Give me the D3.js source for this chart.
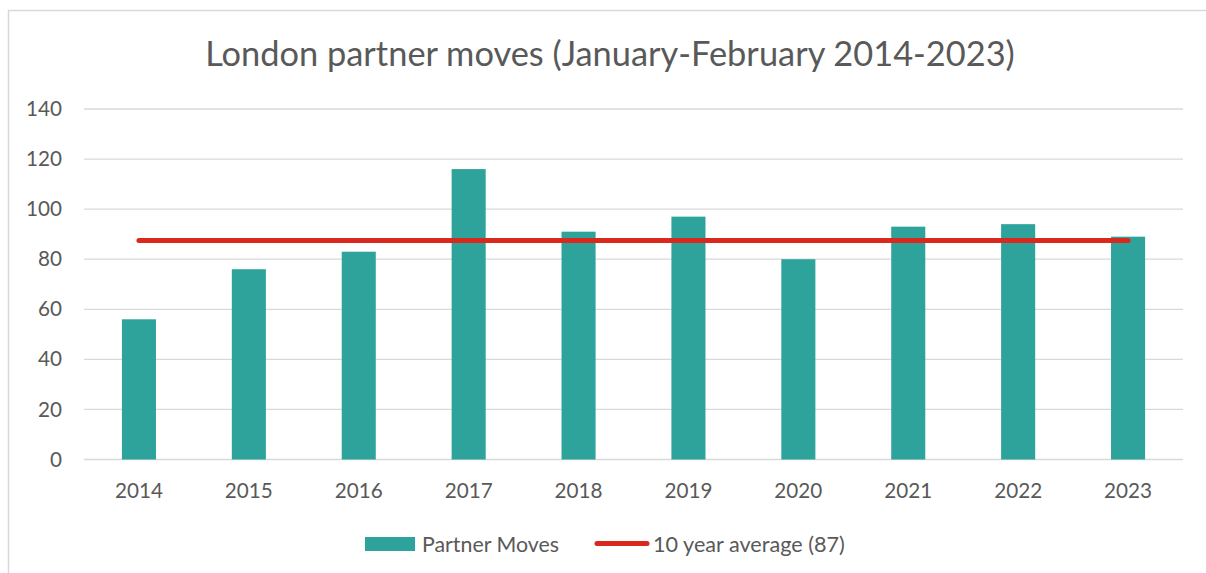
<!DOCTYPE html>
<html>
<head>
<meta charset="utf-8">
<script src="https://cdn.jsdelivr.net/npm/d3@7"></script>
<style>
  html, body { margin: 0; padding: 0; background: #fff; }
  svg { display: block; font-family: Lato, "Open Sans", sans-serif; }
</style>
</head>
<body>
<svg id="chart" width="1206" height="573"></svg>
<script>
const categories = ["2014","2015","2016","2017","2018","2019","2020","2021","2022","2023"];
const partnerMoves = [56, 76, 83, 116, 91, 97, 80, 93, 94, 89];
const averageValue = 87.5;
const yTicks = [0, 20, 40, 60, 80, 100, 120, 140];
const titleText = "London partner moves (January-February 2014-2023)";
const seriesNames = ["Partner Moves", "10 year average (87)"];

const svg = d3.select("#chart");
const W = 1206, H = 573;
const plot = { left: 84, right: 1183, top: 109, bottom: 459.5 };
const textColor = "#595959";
const barColor = "#2ea39c";
const lineColor = "#d9291f";

function fit(sel, target) {
  const base = parseFloat(sel.attr("font-size"));
  const w = sel.node().getComputedTextLength();
  sel.attr("font-size", base * target / w);
}

// outer border
svg.append("rect").attr("x", 8.5).attr("y", 10.5).attr("width", W).attr("height", H)
  .attr("fill", "none").attr("stroke", "#d9d9d9").attr("stroke-width", 1.5);

const x = d3.scaleBand().domain(categories).range([plot.left, plot.right]).paddingInner(0.69).paddingOuter(0.345);
const y = d3.scaleLinear().domain([0, 140]).range([plot.bottom, plot.top]);

// gridlines
svg.append("g").selectAll("line").data(yTicks).join("line")
  .attr("x1", plot.left).attr("x2", plot.right)
  .attr("y1", d => y(d)).attr("y2", d => y(d))
  .attr("stroke", "#d9d9d9").attr("stroke-width", 1.3);

// y axis labels
const yAxis = svg.append("g").attr("transform", `translate(${62},0)`)
  .call(d3.axisLeft(y).tickValues(yTicks).tickSize(0).tickPadding(0));
yAxis.select(".domain").remove();
const yText = yAxis.selectAll("text").attr("font-size", 20).attr("fill", textColor)
  .attr("font-family", "Lato, 'Open Sans', sans-serif");
{
  const node = yText.filter(d => d === 140).node();
  const w = node.getComputedTextLength();
  yText.attr("font-size", 20 * 36 / w);
}

// bars
svg.append("g").selectAll("rect").data(partnerMoves).join("rect")
  .attr("x", (d, i) => x(categories[i]))
  .attr("width", x.bandwidth())
  .attr("y", d => y(d))
  .attr("height", d => y(0) - y(d))
  .attr("fill", barColor);

// x axis labels
const xAxis = svg.append("g").attr("transform", `translate(0,${plot.bottom})`)
  .call(d3.axisBottom(x).tickSize(0).tickPadding(22));
xAxis.select(".domain").remove();
const xText = xAxis.selectAll("text").attr("font-size", 20).attr("fill", textColor)
  .attr("font-family", "Lato, 'Open Sans', sans-serif");
{
  const w = xText.node().getComputedTextLength();
  const fs = 20 * 48 / w;
  xText.attr("font-size", fs).attr("dy", null).attr("y", 498 - plot.bottom);
}

// average line
const firstC = x(categories[0]) + x.bandwidth() / 2;
const lastC = x(categories[categories.length - 1]) + x.bandwidth() / 2;
svg.append("line")
  .attr("x1", firstC).attr("x2", lastC)
  .attr("y1", y(averageValue)).attr("y2", y(averageValue))
  .attr("stroke", lineColor).attr("stroke-width", 5).attr("stroke-linecap", "round");

// title
const title = svg.append("text").attr("x", 610).attr("y", 66)
  .attr("text-anchor", "middle").attr("font-size", 30).attr("fill", textColor)
  .text(titleText);
fit(title, 810);

// legend
svg.append("rect").attr("x", 365).attr("y", 537).attr("width", 50).attr("height", 14).attr("fill", barColor);
const l1 = svg.append("text").attr("x", 422).attr("y", 551.5).attr("font-size", 20).attr("fill", textColor).text(seriesNames[0]);
fit(l1, 137);
svg.append("line").attr("x1", 597).attr("x2", 647).attr("y1", 543.5).attr("y2", 543.5)
  .attr("stroke", lineColor).attr("stroke-width", 5).attr("stroke-linecap", "round");
const l2 = svg.append("text").attr("x", 653).attr("y", 551.5).attr("font-size", 20).attr("fill", textColor).text(seriesNames[1]);
fit(l2, 192);
</script>
</body>
</html>
